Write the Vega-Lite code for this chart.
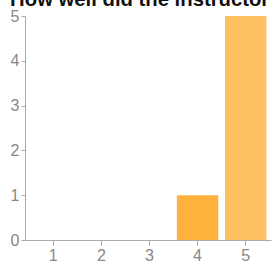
{
  "$schema": "https://vega.github.io/schema/vega-lite/v6.json",
  "autosize": {"type": "none"},
  "width": 246,
  "height": 224,
  "padding": {"left": 25, "top": 16, "right": 4, "bottom": 28},
  "background": "white",
  "title": {
    "text": "How well did the instructor explain the material?",
    "anchor": "start",
    "dx": 0,
    "offset": -2,
    "fontSize": 20.3,
    "font": "Liberation Sans",
    "fontWeight": "bold",
    "color": "#111111"
  },
  "data": {
    "values": [
      {"rating": "1", "count": 0},
      {"rating": "2", "count": 0},
      {"rating": "3", "count": 0},
      {"rating": "4", "count": 1},
      {"rating": "5", "count": 5}
    ]
  },
  "mark": {"type": "bar"},
  "encoding": {
    "x": {
      "field": "rating",
      "type": "ordinal",
      "scale": {"paddingInner": 0.14, "paddingOuter": 0.127, "align": 0.62},
      "axis": {
        "title": null,
        "labelAngle": 0,
        "labelFont": "Liberation Sans",
        "labelFontSize": 16,
        "labelColor": "#888888",
        "domainColor": "#aaaaaa",
        "tickColor": "#aaaaaa",
        "tickSize": 5,
        "labelPadding": 2
      }
    },
    "y": {
      "field": "count",
      "type": "quantitative",
      "scale": {"domain": [0, 5], "nice": false},
      "axis": {
        "title": null,
        "values": [0, 1, 2, 3, 4, 5],
        "grid": false,
        "labelFont": "Liberation Sans",
        "labelFontSize": 16,
        "labelColor": "#888888",
        "domainColor": "#aaaaaa",
        "tickColor": "#aaaaaa",
        "tickSize": 4,
        "labelPadding": 2
      }
    },
    "color": {
      "field": "rating",
      "type": "nominal",
      "scale": {"domain": ["1", "2", "3", "4", "5"], "range": ["#ffb13d", "#ffb13d", "#ffb13d", "#ffb13d", "#ffc062"]},
      "legend": null
    }
  },
  "config": {"view": {"stroke": null}}
}
